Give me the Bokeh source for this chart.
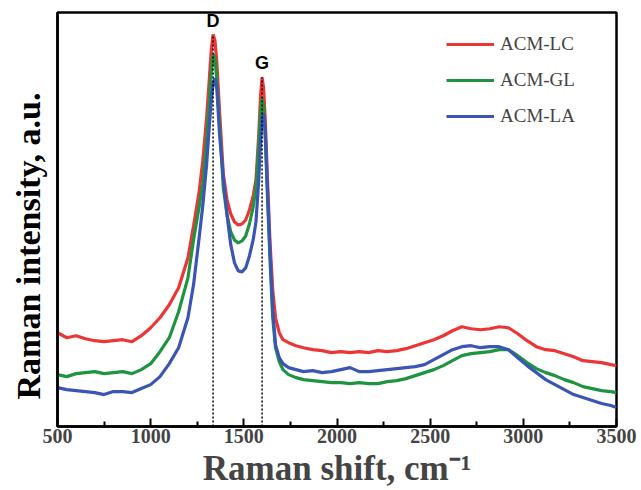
from bokeh.plotting import figure
from bokeh.models import Range1d, FixedTicker, Legend, LegendItem, ColumnDataSource, Title
from bokeh.core.properties import value
from bokeh.embed import file_html
from bokeh.resources import INLINE

# Raman shift (cm-1)
shift = [500, 550, 600, 650, 700, 750, 800, 850, 900, 950, 1000, 1050, 1100, 1150, 1200,
         1230, 1260, 1280, 1300, 1315, 1325, 1335, 1345, 1355, 1370, 1390, 1410, 1430, 1450,
         1470, 1490, 1510, 1530, 1550, 1565, 1580, 1590, 1598, 1606, 1615, 1625, 1640, 1655,
         1670, 1690, 1710, 1740, 1780, 1820, 1870, 1920, 1970, 2020, 2070, 2120, 2170, 2220,
         2270, 2320, 2370, 2420, 2470, 2520, 2570, 2620, 2670, 2720, 2770, 2820, 2870, 2920,
         2970, 3020, 3070, 3120, 3170, 3220, 3270, 3320, 3370, 3420, 3470, 3500]

acm_lc = [94, 89, 91, 88, 86, 85, 86, 87, 85, 91, 99, 109, 122, 139, 169,
          201, 235, 267, 309, 349, 377, 393, 387, 365, 315, 253, 227, 213, 205,
          202, 203, 207, 217, 231, 247, 292, 332, 350, 339, 307, 257, 187, 137,
          109, 94, 87, 84, 81, 79, 77, 76, 74, 75, 74, 75, 74, 76,
          75, 76, 78, 81, 84, 87, 91, 96, 100, 98, 97, 98, 100, 99,
          93, 86, 80, 77, 76, 73, 70, 66, 65, 64, 62, 61]

acm_gl = [52, 50, 53, 54, 55, 53, 54, 55, 53, 57, 63, 75, 89, 115, 149,
          187, 220, 243, 287, 327, 355, 373, 369, 347, 302, 239, 212, 195, 187,
          184, 186, 191, 203, 220, 239, 282, 315, 329, 321, 289, 239, 169, 109,
          79, 65, 57, 52, 49, 47, 46, 45, 44, 44, 43, 44, 43, 43,
          45, 46, 48, 51, 54, 57, 61, 66, 71, 73, 74, 75, 77, 77,
          71, 64, 58, 54, 51, 47, 44, 40, 38, 36, 35, 34]

acm_la = [39, 37, 36, 35, 34, 32, 35, 35, 34, 38, 42, 50, 63, 79, 109,
          142, 189, 222, 262, 302, 327, 343, 349, 339, 292, 249, 212, 182, 164,
          156, 155, 159, 171, 187, 205, 247, 287, 309, 314, 297, 247, 177, 117,
          82, 69, 63, 59, 57, 55, 56, 54, 55, 57, 59, 55, 55, 56,
          57, 58, 59, 60, 62, 67, 72, 77, 80, 81, 79, 80, 80, 77,
          69, 61, 54, 47, 42, 37, 32, 29, 26, 23, 21, 19]

series_names = ["ACM-LC", "ACM-GL", "ACM-LA"]
series_colors = ["#ee3535", "#1e9440", "#3a55b4"]

band_names = ["D", "G"]
band_pos = [1335, 1598]
band_top = [393, 350]
band_label_y = [406, 364]

x_ticks = [500, 1000, 1500, 2000, 2500, 3000, 3500]
x_minor = [750, 1250, 1750, 2250, 2750, 3250]

p = figure(width=641, height=490, output_backend="svg", toolbar_location=None,
           x_range=Range1d(500, 3500), y_range=Range1d(0, 415),
           min_border_left=57, min_border_right=25, min_border_top=12, min_border_bottom=63)
p.background_fill_color = "white"
p.border_fill_color = "white"
p.grid.visible = False
p.outline_line_color = "black"
p.outline_line_width = 2.5

renderers = []
for ys, c in zip([acm_lc, acm_gl, acm_la], series_colors):
    r = p.line(shift, ys, line_color=c, line_width=3.2)
    renderers.append(r)

bands = ColumnDataSource(dict(x=band_pos, y0=[0, 0], y1=band_top, ly=band_label_y, t=band_names))
p.segment(x0="x", y0="y0", x1="x", y1="y1", source=bands, line_color="black",
          line_width=1.5, line_dash="2 2")
p.text(x="x", y="ly", text="t", source=bands, text_align="center", text_baseline="middle",
       text_font=value("Liberation Sans"), text_font_style="bold", text_font_size="18px",
       text_color="black")

# x axis
xa = p.xaxis[0]
xa.ticker = FixedTicker(ticks=x_ticks, minor_ticks=x_minor)
xa.axis_label = "Raman shift, cm\u207b\u00b9"
xa.axis_label_text_font = "Liberation Serif"
xa.axis_label_text_font_style = "bold"
xa.axis_label_text_font_size = "35px"
xa.axis_label_standoff = 3
xa.major_label_text_font = "Liberation Serif"
xa.major_label_text_font_style = "bold"
xa.major_label_text_font_size = "20px"
xa.major_label_standoff = 2
xa.axis_line_width = 2.5
xa.major_tick_in = 8
xa.major_tick_out = 0
xa.minor_tick_in = 5
xa.minor_tick_out = 0
xa.major_tick_line_width = 2
xa.minor_tick_line_width = 2

# y axis (no ticks); its title is a side title so it can sit off-centre like the original
ya = p.yaxis[0]
ya.ticker = FixedTicker(ticks=[])
ya.major_label_standoff = 0
ya.major_tick_out = 0
ya.major_tick_in = 0
ya.minor_tick_out = 0
ya.minor_tick_in = 0
ya.axis_line_width = 2.5

ytitle = Title(text="Raman intensity, a.u.", align="left", offset=27, standoff=18,
               vertical_align="top",
               text_font="Liberation Serif", text_font_style="bold", text_font_size="34px",
               text_color="black")
p.add_layout(ytitle, "left")

legend = Legend(items=[LegendItem(label=n, renderers=[r]) for n, r in zip(series_names, renderers)],
                location=(389, 299))
legend.background_fill_alpha = 0
legend.border_line_alpha = 0
legend.padding = 0
legend.margin = 0
legend.spacing = 14
legend.glyph_width = 48
legend.glyph_height = 20
legend.label_height = 20
legend.label_standoff = 6
legend.label_text_font = "Liberation Serif"
legend.label_text_font_size = "19px"
p.add_layout(legend)

open("out.html", "w").write(file_html(p, INLINE))
